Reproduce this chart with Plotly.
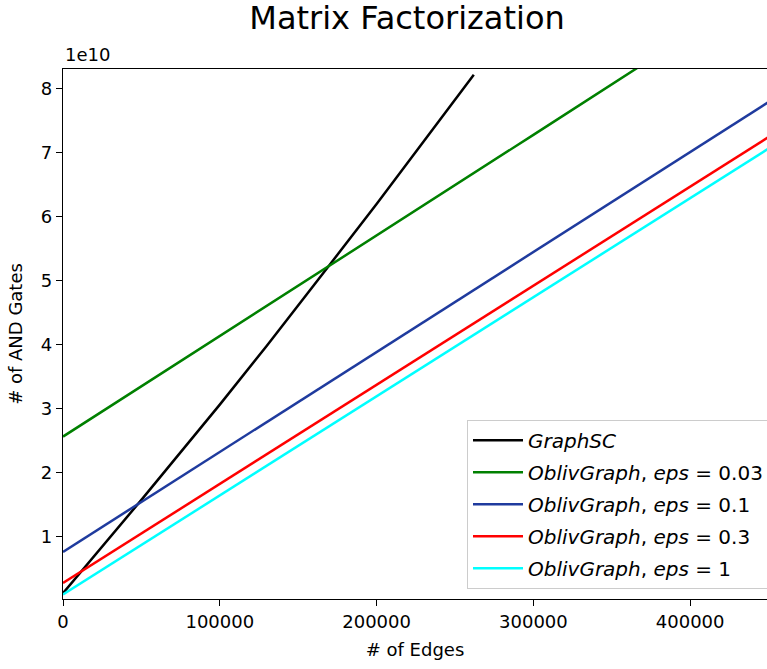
import plotly.graph_objects as go

# Data (y in units of 1e10 AND gates)
edges_graphsc = [0, 50000, 100000, 130000, 170000, 200000, 262000]
gates_graphsc = [0.11, 1.57, 3.06, 3.98, 5.245, 6.20, 8.22]

edges_obliv = [0, 100000, 200000, 300000, 400000, 460000]
gates_eps_003 = [2.56, 4.13, 5.71, 7.28, 8.86, 9.80]
gates_eps_01 = [0.756, 2.32, 3.88, 5.45, 7.01, 7.95]
gates_eps_03 = [0.27, 1.82, 3.37, 4.92, 6.47, 7.40]
gates_eps_1 = [0.09, 1.64, 3.19, 4.74, 6.29, 7.22]

x_ticks = [0, 100000, 200000, 300000, 400000]
y_ticks = [1, 2, 3, 4, 5, 6, 7, 8]

FONT = "DejaVu Sans"
W, H = 767, 669
L, R, T, B = 63, 0, 69, 70
EQ = " = "

series = [
    (edges_graphsc, gates_graphsc, "<i>GraphSC</i>", "#000000"),
    (edges_obliv, gates_eps_003, "<i>OblivGraph</i>, <i>eps</i>" + EQ + "0.03", "#008000"),
    (edges_obliv, gates_eps_01, "<i>OblivGraph</i>, <i>eps</i>" + EQ + "0.1", "#1f3b9e"),
    (edges_obliv, gates_eps_03, "<i>OblivGraph</i>, <i>eps</i>" + EQ + "0.3", "#ff0000"),
    (edges_obliv, gates_eps_1, "<i>OblivGraph</i>, <i>eps</i>" + EQ + "1", "#00ffff"),
]

fig = go.Figure()
for i, (xs, ys, name, col) in enumerate(series):
    fig.add_trace(go.Scatter(x=xs, y=ys, mode="lines", name=name,
                             legendgroup=str(i),
                             line=dict(color=col, width=2.5)))

axis_common = dict(showline=True, linecolor="black", linewidth=1.2, mirror=True,
                   ticks="outside", ticklen=6, tickwidth=1.2, tickcolor="black",
                   showgrid=False, zeroline=False, automargin=False,
                   tickfont=dict(family=FONT, size=18, color="black"))

fig.update_layout(
    width=W, height=H,
    margin=dict(l=L, r=R, t=T, b=B, autoexpand=False),
    paper_bgcolor="white", plot_bgcolor="white",
    font=dict(family=FONT, color="black"),
    title=dict(text="Matrix Factorization", x=407 / W, xref="container",
               xanchor="center", y=1 - 18 / H, yanchor="middle", yref="container",
               font=dict(family=FONT, size=32, color="black")),
    xaxis=dict(range=[0, 449000], tickvals=x_ticks, ticktext=[str(v) for v in x_ticks],
               title=dict(text="# of Edges", font=dict(family=FONT, size=18), standoff=12),
               **axis_common),
    yaxis=dict(range=[0.02, 8.31], tickvals=y_ticks, ticktext=[str(v) for v in y_ticks],
               title=dict(text="# of AND Gates", font=dict(family=FONT, size=18), standoff=13),
               **axis_common),
    showlegend=True,
    legend=dict(x=(467 - L) / (W - L - R), y=(599.3 - 420) / (599.3 - 69.3),
                xanchor="left", yanchor="top",
                bgcolor="rgba(255,255,255,0.8)", bordercolor="#cccccc", borderwidth=1,
                font=dict(family=FONT, size=20, color="black"),
                tracegroupgap=3, traceorder="grouped", itemwidth=50),
    annotations=[dict(text="1e10", x=0, y=1, xref="paper", yref="paper",
                      xanchor="left", yanchor="bottom", yshift=2, showarrow=False,
                      font=dict(family=FONT, size=18, color="black"))],
)

fig.write_html("out.html", config={"displayModeBar": False},
               post_script="document.body.style.margin='0';document.body.style.overflow='hidden';")
